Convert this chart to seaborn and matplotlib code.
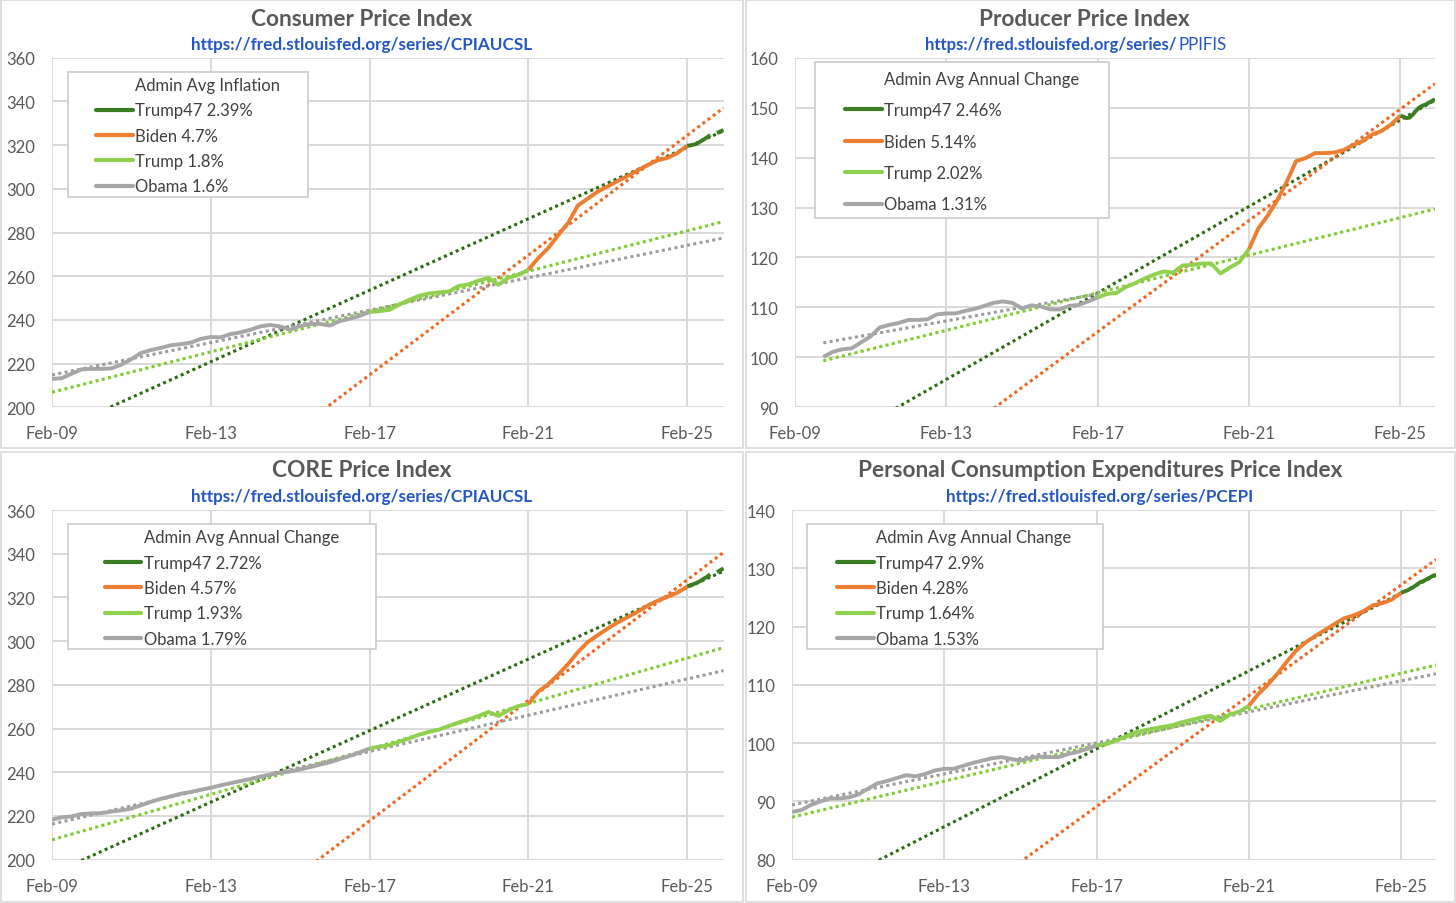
import pandas as pd
import matplotlib
matplotlib.use('Agg')
import matplotlib.pyplot as plt
import matplotlib.dates as mdates
from matplotlib.lines import Line2D
from matplotlib.patches import Rectangle
import seaborn as sns

sns.set_theme(style='white')
plt.rcParams['font.family'] = ['Lato', 'DejaVu Sans']

W, H = 1456, 904

# admins in legend order
admins = ['Trump47', 'Biden', 'Trump', 'Obama']
line_colors = ['#3b7d23', '#ed7d31', '#8fd14f', '#a6a6a6']
trend_colors = ['#2a6b10', '#f0641e', '#7dcb2e', '#9c9c9c']
term_starts = ['2025-02', '2021-02', '2017-02', '2009-02']

# quarterly readings 2009-2024, then monthly from Feb 2025
dates = list(pd.date_range('2009-02-01', '2024-11-01', freq='3MS')) + \
    list(pd.date_range('2025-02-01', '2026-01-01', freq='MS'))
nan = float('nan')

cpi = [213.0, 213.3, 215.4, 217.4, 217.6, 217.6, 217.8, 219.5,
       222.0, 224.9, 226.2, 227.2, 228.4, 228.9, 229.6, 231.3,
       232.2, 232.0, 233.5, 234.3, 235.5, 237.0, 237.7, 237.0,
       235.5, 237.1, 238.1, 238.2, 237.4, 239.4, 240.5, 241.8,
       243.6, 244.0, 244.6, 247.0, 249.2, 251.0, 252.1, 252.6,
       253.0, 255.5, 256.3, 258.0, 259.2, 256.0, 259.3, 260.6,
       263.0, 268.2, 272.8, 278.7, 284.4, 292.3, 295.5, 298.7,
       301.1, 303.5, 305.8, 308.4, 310.8, 313.0, 314.1, 316.3,
       319.7, 319.9, 320.2, 320.6, 321.6, 322.5, 323.5, 324.6, nan, 325.5, 326.2, 326.9]

ppi = [nan, nan, nan, 100.1, 101.1, 101.6, 101.8, 103.0,
       104.2, 106.0, 106.5, 106.9, 107.5, 107.5, 107.6, 108.6,
       108.8, 108.8, 109.3, 109.7, 110.3, 110.9, 111.2, 110.9,
       109.8, 110.4, 110.2, 109.6, 109.6, 110.3, 110.5, 111.2,
       112.0, 112.7, 112.9, 114.1, 114.9, 115.8, 116.6, 117.2,
       117.0, 118.4, 118.5, 118.8, 118.8, 116.8, 118.0, 119.1,
       121.7, 125.8, 128.4, 131.5, 135.2, 139.3, 139.9, 140.9,
       140.9, 141.0, 141.5, 142.5, 143.3, 144.6, 145.3, 146.6,
       148.4, 148.2, 147.9, 148.0, 148.6, 149.4, 150.0, 150.4, 150.6, 151.0, 151.3, 151.7]

core = [218.3, 219.4, 219.8, 220.9, 221.2, 221.3, 222.0, 222.6,
        223.4, 224.9, 226.5, 227.9, 229.0, 230.2, 231.0, 232.0,
        232.9, 234.0, 235.0, 236.0, 236.9, 238.0, 238.9, 239.8,
        240.4, 241.3, 242.3, 243.5, 244.6, 246.0, 247.5, 249.1,
        250.9, 251.7, 252.4, 254.0, 255.5, 257.2, 258.5, 259.5,
        261.2, 262.8, 264.2, 265.8, 267.6, 265.8, 268.4, 270.3,
        271.2, 276.9, 280.2, 284.6, 289.5, 294.9, 299.6, 302.7,
        305.8, 308.5, 310.9, 313.4, 316.2, 318.4, 320.2, 322.1,
        325.0, 325.6, 326.1, 326.7, 327.5, 328.5, 329.4, 330.6, nan, 331.6, 332.4, 333.3]

pce = [88.2, 88.5, 89.4, 90.0, 90.5, 90.5, 90.7, 91.2,
       92.2, 93.1, 93.5, 94.0, 94.5, 94.3, 94.7, 95.3,
       95.6, 95.6, 96.1, 96.6, 97.0, 97.4, 97.6, 97.3,
       97.0, 97.4, 97.7, 97.6, 97.6, 98.1, 98.5, 99.0,
       99.6, 99.8, 100.4, 101.1, 101.8, 102.2, 102.5, 102.8,
       103.1, 103.6, 104.0, 104.4, 104.7, 103.8, 104.9, 105.4,
       106.4, 108.4, 110.0, 111.9, 114.0, 115.9, 117.3, 118.4,
       119.4, 120.4, 121.4, 121.9, 122.6, 123.6, 124.0, 124.6,
       125.8, 126.0, 126.2, 126.5, 126.8, 127.2, 127.6, 127.8, 128.1, 128.4, 128.7, 128.9]

# linear trendlines (Trump47, Biden, Trump, Obama)
cpi_trend_from, cpi_trend_to = ['2009-02'] * 4, ['2026-01'] * 4
cpi_trend_v0 = [188.1, 105.2, 206.9, 214.8]
cpi_trend_v1 = [326.5, 337.0, 285.0, 277.5]
ppi_trend_from, ppi_trend_to = ['2009-11'] * 4, ['2026-01', '2026-01', '2026-01', '2017-02']
ppi_trend_v0 = [81.5, 64.7, 99.3, 102.9]
ppi_trend_v1 = [151.5, 154.8, 129.7, 112.7]
core_trend_from, core_trend_to = ['2009-02'] * 4, ['2026-01'] * 4
core_trend_v0 = [193.6, 107.6, 209.1, 216.3]
core_trend_v1 = [332.0, 340.6, 297.0, 286.5]
pce_trend_from, pce_trend_to = ['2009-02'] * 4, ['2026-01'] * 4
pce_trend_v0 = [72.3, 51.1, 87.3, 89.4]
pce_trend_v1 = [128.8, 131.5, 113.4, 111.9]

cpi_legend = ['Admin Avg Inflation', 'Trump47 2.39%', 'Biden 4.7%', 'Trump 1.8%', 'Obama 1.6%']
ppi_legend = ['Admin Avg Annual Change', 'Trump47 2.46%', 'Biden 5.14%', 'Trump 2.02%', 'Obama 1.31%']
core_legend = ['Admin Avg Annual Change', 'Trump47 2.72%', 'Biden 4.57%', 'Trump 1.93%', 'Obama 1.79%']
pce_legend = ['Admin Avg Annual Change', 'Trump47 2.9%', 'Biden 4.28%', 'Trump 1.64%', 'Obama 1.53%']

panels = [
    dict(title='Consumer Price Index', url=('https://fred.stlouisfed.org/series/CPIAUCSL', ''),
         values=cpi, trend=(cpi_trend_from, cpi_trend_to, cpi_trend_v0, cpi_trend_v1),
         legend=cpi_legend, ylim=(200, 360), ystep=20,
         box=(52, 58.7, 723.5, 408.3), frame=(1, 1, 743, 449), tx=362, ty=19,
         leg=(96, 78), legbox=(67.5, 73, 307.7, 198), spacing=0.56),
    dict(title='Producer Price Index', url=('https://fred.stlouisfed.org/series/', 'PPIFIS'),
         values=ppi, trend=(ppi_trend_from, ppi_trend_to, ppi_trend_v0, ppi_trend_v1),
         legend=ppi_legend, ylim=(90, 160), ystep=10,
         box=(795, 58.7, 1435, 408.3), frame=(746, 1, 1455, 449), tx=1084, ty=19,
         leg=(845, 71.5), legbox=(814.5, 63, 1108.5, 219), spacing=0.93),
    dict(title='CORE Price Index', url=('https://fred.stlouisfed.org/series/CPIAUCSL', ''),
         values=core, trend=(core_trend_from, core_trend_to, core_trend_v0, core_trend_v1),
         legend=core_legend, ylim=(200, 360), ystep=20,
         box=(52, 511, 723.5, 860.7), frame=(1, 453, 743, 903), tx=362, ty=471,
         leg=(104.8, 530.5), legbox=(67.5, 525, 376, 650), spacing=0.56),
    dict(title='Personal Consumption Expenditures Price Index', url=('https://fred.stlouisfed.org/series/PCEPI', ''),
         values=pce, trend=(pce_trend_from, pce_trend_to, pce_trend_v0, pce_trend_v1),
         legend=pce_legend, ylim=(80, 140), ystep=10,
         box=(792, 511, 1436, 860.7), frame=(746, 453, 1455, 903), tx=1100, ty=471,
         leg=(837, 530.5), legbox=(806.8, 525, 1102.6, 650), spacing=0.56),
]


def split_terms(values):
    s = pd.Series(values, index=pd.DatetimeIndex(dates))
    starts = [pd.Timestamp(d) for d in term_starts] + [pd.Timestamp('2100-01-01')]
    frames = []
    # walk terms oldest to newest; each shares its first point with the previous term
    order = list(range(len(admins)))[::-1]
    for k, i in enumerate(order):
        lo = starts[i]
        hi = starts[order[k + 1]] if k + 1 < len(order) else starts[-1]
        part = s[(s.index >= lo) & (s.index <= hi)]
        gap_id = part.isna().cumsum()
        for g, piece in part.groupby(gap_id):
            piece = piece.dropna()
            frames.append(pd.DataFrame({'date': piece.index, 'value': piece.values,
                                        'admin': admins[i], 'seg': f'{admins[i]}_{g}'}))
    return pd.concat(frames, ignore_index=True)


fig = plt.figure(figsize=(W / 100, H / 100), dpi=100)
palette = dict(zip(admins, line_colors))
grey_txt = '#595959'

for p in panels:
    x0, y0, x1, y1 = p['box']
    ax = fig.add_axes([x0 / W, 1 - y1 / H, (x1 - x0) / W, (y1 - y0) / H])

    # dotted trendlines underneath the data
    t_from, t_to, t_v0, t_v1 = p['trend']
    for c, a, b, v0, v1 in zip(trend_colors, t_from, t_to, t_v0, t_v1):
        ax.plot([pd.Timestamp(a), pd.Timestamp(b)], [v0, v1], color=c, lw=2.2,
                ls=(0, (1, 1.1)), dash_capstyle='butt', zorder=2)

    df = split_terms(p['values'])
    sns.lineplot(data=df, x='date', y='value', hue='admin', units='seg', estimator=None,
                 palette=palette, lw=2.8, legend=False, ax=ax, zorder=3,
                 solid_joinstyle='round', solid_capstyle='butt')

    ax.set_xlim(pd.Timestamp('2009-02-01'), pd.Timestamp('2026-01-01'))
    ax.set_ylim(*p['ylim'])
    ax.set_yticks(range(p['ylim'][0], p['ylim'][1] + 1, p['ystep']))
    ax.set_xticks([pd.Timestamp(f'{y}-02-01') for y in (2009, 2013, 2017, 2021, 2025)])
    ax.xaxis.set_major_formatter(mdates.DateFormatter('%b-%y'))
    ax.grid(True, color='#d9d9d9', lw=1.4)
    ax.set_axisbelow(True)
    for sp in ax.spines.values():
        sp.set_visible(False)
    ax.tick_params(axis='both', length=0, labelsize=12, labelcolor=grey_txt)
    ax.tick_params(axis='y', pad=12)
    ax.tick_params(axis='x', pad=13)
    ax.set_xlabel('')
    ax.set_ylabel('')

    # panel frame
    fx0, fy0, fx1, fy1 = p['frame']
    fig.add_artist(Rectangle((fx0 / W, 1 - fy1 / H), (fx1 - fx0) / W, (fy1 - fy0) / H,
                             transform=fig.transFigure, fill=False, ec='#d9d9d9', lw=1.2, zorder=1))

    # titles
    fig.text(p['tx'] / W, 1 - p['ty'] / H, p['title'], ha='center', va='center',
             fontsize=16.3, fontweight='bold', color=grey_txt)
    url_bold, url_tail = p['url']
    uy = 1 - (p['ty'] + 26) / H
    if url_tail:
        fig.text(1177 / W, uy, url_bold, ha='right', va='center', fontsize=12,
                 fontweight='bold', color='#2457c5')
        fig.text(1178 / W, uy, url_tail, ha='left', va='center', fontsize=12.2,
                 color='#2457c5')
    else:
        fig.text(p['tx'] / W, uy, url_bold, ha='center', va='center', fontsize=12.3,
                 fontweight='bold', color='#2457c5')

    # legend box and entries (first entry is the blank heading row)
    lx0, ly0, lx1, ly1 = p['legbox']
    fig.add_artist(Rectangle((lx0 / W, 1 - ly1 / H), (lx1 - lx0) / W, (ly1 - ly0) / H,
                             transform=fig.transFigure, fc='white', ec='#c8c8c8', lw=1.1, zorder=4))
    handles = [Line2D([], [], color='none')] + \
        [Line2D([], [], color=c, lw=3) for c in line_colors]
    leg = fig.legend(handles, p['legend'], loc='upper left',
                     bbox_to_anchor=(p['leg'][0] / W, 1 - p['leg'][1] / H),
                     bbox_transform=fig.transFigure, frameon=False, borderpad=0,
                     borderaxespad=0, handlelength=2.2, handletextpad=0.15,
                     labelspacing=p['spacing'], fontsize=12, labelcolor='#404040')
    leg.set_zorder(5)

fig.savefig('out.png', dpi=100, facecolor='white')
